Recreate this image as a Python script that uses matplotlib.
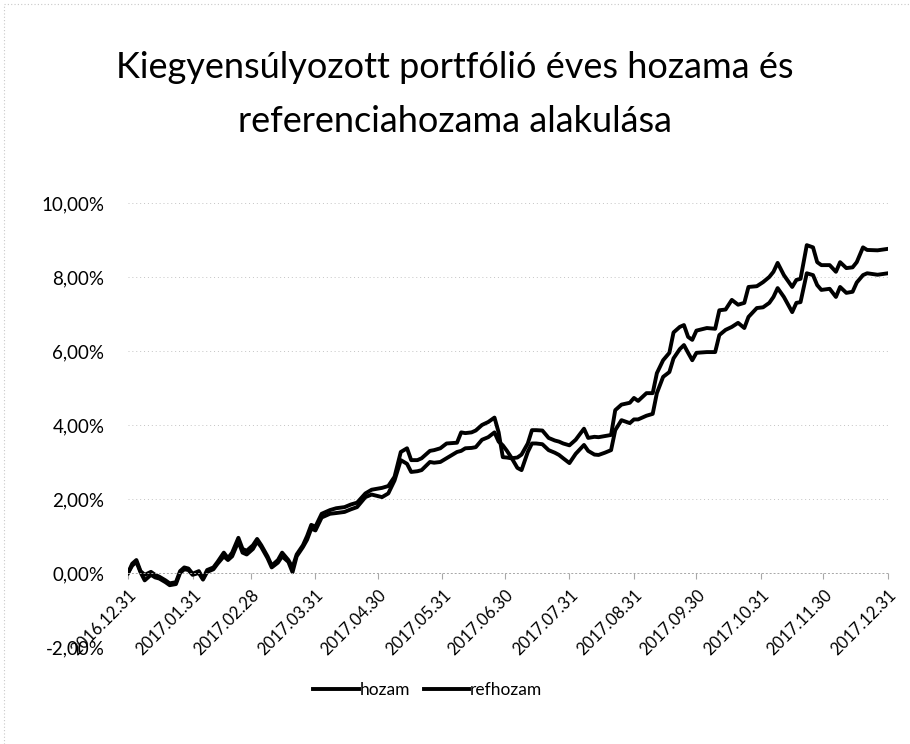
import numpy as np
import pandas as pd
import matplotlib
matplotlib.use('Agg')
import matplotlib.pyplot as plt
import matplotlib.dates as mdates
from matplotlib.ticker import FuncFormatter

plt.rcParams['font.family'] = ['Lato', 'DejaVu Sans']

# (values in %)
dates = [
    '2016-12-31', '2017-01-02', '2017-01-04', '2017-01-06', '2017-01-08', '2017-01-11',
    '2017-01-13', '2017-01-15', '2017-01-18', '2017-01-20', '2017-01-23', '2017-01-25',
    '2017-01-27', '2017-01-29', '2017-01-31', '2017-02-03', '2017-02-05', '2017-02-07',
    '2017-02-10', '2017-02-12', '2017-02-15', '2017-02-17', '2017-02-19', '2017-02-22',
    '2017-02-24', '2017-02-26', '2017-03-01', '2017-03-03', '2017-03-05', '2017-03-08',
    '2017-03-10', '2017-03-13', '2017-03-15', '2017-03-18', '2017-03-20', '2017-03-22',
    '2017-03-25', '2017-03-27', '2017-03-29', '2017-03-31', '2017-04-03', '2017-04-07',
    '2017-04-10', '2017-04-14', '2017-04-17', '2017-04-20', '2017-04-24', '2017-04-27',
    '2017-05-02', '2017-05-05', '2017-05-08', '2017-05-11', '2017-05-14', '2017-05-16',
    '2017-05-19', '2017-05-21', '2017-05-25', '2017-05-27', '2017-05-30', '2017-06-02',
    '2017-06-07', '2017-06-09', '2017-06-11', '2017-06-14', '2017-06-16', '2017-06-19',
    '2017-06-22', '2017-06-25', '2017-06-27', '2017-06-29', '2017-07-01', '2017-07-03',
    '2017-07-06', '2017-07-08', '2017-07-11', '2017-07-13', '2017-07-15', '2017-07-18',
    '2017-07-21', '2017-07-24', '2017-07-26', '2017-07-28', '2017-07-31', '2017-08-03',
    '2017-08-07', '2017-08-09', '2017-08-12', '2017-08-14', '2017-08-17', '2017-08-20',
    '2017-08-22', '2017-08-25', '2017-08-29', '2017-08-31', '2017-09-02', '2017-09-06',
    '2017-09-09', '2017-09-11', '2017-09-14', '2017-09-17', '2017-09-19', '2017-09-22',
    '2017-09-24', '2017-09-26', '2017-09-28', '2017-09-30', '2017-10-05', '2017-10-09',
    '2017-10-11', '2017-10-14', '2017-10-17', '2017-10-20', '2017-10-23', '2017-10-25',
    '2017-10-29', '2017-11-01', '2017-11-04', '2017-11-06', '2017-11-08', '2017-11-11',
    '2017-11-15', '2017-11-17', '2017-11-19', '2017-11-22', '2017-11-25', '2017-11-27',
    '2017-11-29', '2017-12-03', '2017-12-06', '2017-12-08', '2017-12-11', '2017-12-14',
    '2017-12-16', '2017-12-19', '2017-12-21', '2017-12-26', '2017-12-31',
]

hozam = [
    0.00, 0.25, 0.35, 0.05, -0.05, 0.03,
    -0.05, -0.10, -0.20, -0.28, -0.25, 0.05,
    0.15, 0.12, -0.02, 0.05, -0.15, 0.08,
    0.15, 0.30, 0.55, 0.40, 0.55, 0.95,
    0.65, 0.60, 0.75, 0.92, 0.75, 0.45,
    0.20, 0.35, 0.55, 0.35, 0.15, 0.50,
    0.75, 1.00, 1.30, 1.25, 1.60, 1.70,
    1.75, 1.78, 1.85, 1.90, 2.15, 2.25,
    2.30, 2.35, 2.60, 3.27, 3.37, 3.05,
    3.05, 3.10, 3.30, 3.32, 3.37, 3.50,
    3.52, 3.80, 3.78, 3.80, 3.85, 4.00,
    4.08, 4.20, 3.80, 3.13, 3.12, 3.10,
    3.12, 3.20, 3.50, 3.86, 3.86, 3.85,
    3.65, 3.58, 3.55, 3.50, 3.45, 3.60,
    3.90, 3.65, 3.68, 3.67, 3.70, 3.73,
    4.40, 4.55, 4.60, 4.73, 4.65, 4.86,
    4.86, 5.40, 5.75, 5.95, 6.50, 6.65,
    6.70, 6.38, 6.30, 6.55, 6.62, 6.60,
    7.10, 7.12, 7.38, 7.25, 7.30, 7.73,
    7.75, 7.86, 8.00, 8.14, 8.38, 8.05,
    7.73, 7.92, 7.95, 8.86, 8.80, 8.40,
    8.32, 8.32, 8.14, 8.40, 8.24, 8.26,
    8.40, 8.80, 8.73, 8.72, 8.76,
]

refhozam = [
    0.00, 0.20, 0.30, 0.02, -0.20, -0.05,
    -0.12, -0.15, -0.25, -0.33, -0.30, 0.00,
    0.10, 0.08, -0.05, 0.00, -0.18, 0.03,
    0.10, 0.25, 0.45, 0.35, 0.45, 0.85,
    0.55, 0.50, 0.65, 0.85, 0.70, 0.40,
    0.15, 0.28, 0.45, 0.30, 0.02, 0.45,
    0.70, 0.90, 1.20, 1.15, 1.50, 1.60,
    1.62, 1.65, 1.72, 1.78, 2.05, 2.12,
    2.05, 2.15, 2.50, 3.05, 2.95, 2.73,
    2.75, 2.78, 3.00, 2.98, 3.00, 3.10,
    3.27, 3.30, 3.37, 3.38, 3.40, 3.60,
    3.67, 3.80, 3.55, 3.45, 3.30, 3.13,
    2.84, 2.78, 3.27, 3.50, 3.50, 3.48,
    3.32, 3.25, 3.19, 3.10, 2.97, 3.22,
    3.46, 3.30, 3.20, 3.19, 3.25, 3.32,
    3.86, 4.13, 4.05, 4.15, 4.15, 4.25,
    4.30, 4.86, 5.30, 5.43, 5.80, 6.05,
    6.16, 5.95, 5.75, 5.95, 5.97, 5.97,
    6.43, 6.57, 6.65, 6.76, 6.62, 6.92,
    7.16, 7.18, 7.30, 7.46, 7.70, 7.46,
    7.05, 7.30, 7.32, 8.10, 8.05, 7.78,
    7.65, 7.68, 7.46, 7.73, 7.57, 7.60,
    7.85, 8.05, 8.10, 8.06, 8.10,
]

title = 'Kiegyensúlyozott portfólió éves hozama és\nreferenciahozama alakulása'
yticks = [-2, 0, 2, 4, 6, 8, 10]

x = pd.to_datetime(dates)
tick_dates = pd.date_range('2016-12-31', '2017-12-31', freq='ME')

fig = plt.figure(figsize=(9.1, 7.44), dpi=100)
ax = fig.add_axes([0.1407, 0.1304, 0.8351, 0.5968])

ax.plot(x, hozam, color='black', lw=2.8, label='hozam')
ax.plot(x, refhozam, color='black', lw=2.8, label='refhozam')

ax.set_xlim(pd.Timestamp('2016-12-31'), pd.Timestamp('2017-12-31'))
ax.set_ylim(-2, 10)
ax.set_yticks(yticks)
ax.yaxis.set_major_formatter(FuncFormatter(lambda v, p: f'{v:.2f}%'.replace('.', ',')))
ax.grid(axis='y', color='#c4c4c4', ls=(0, (1, 3)), lw=0.7)
ax.set_axisbelow(True)

for s in ['top', 'right', 'left']:
    ax.spines[s].set_visible(False)
ax.spines['bottom'].set_position(('data', 0))
ax.spines['bottom'].set_color('#a8a8a8')
ax.spines['bottom'].set_linestyle((0, (1, 3)))
ax.spines['bottom'].set_linewidth(0.7)

ax.set_xticks(tick_dates)
ax.xaxis.set_major_formatter(mdates.DateFormatter('%Y.%m.%d'))
ax.tick_params(axis='x', length=4, color='#a8a8a8', pad=6, labelsize=12)
ax.tick_params(axis='y', length=0, pad=17, labelsize=13.5)
for lab in ax.get_xticklabels():
    lab.set_rotation(45)
    lab.set_ha('right')
    lab.set_rotation_mode('anchor')

fig.text(0.5, 0.873, title, ha='center', va='center', fontsize=26,
         linespacing=1.75)

fig.legend(loc='center', bbox_to_anchor=(0.47, 0.073), ncol=2, frameon=False,
           fontsize=12.5, handlelength=2.6, handletextpad=0.05, columnspacing=0.8)

# faint scanned chart border
fig.add_artist(plt.Line2D([0.004, 0.004], [0.0, 0.995], color='#c8c8c8', lw=0.8,
                          ls=(0, (1, 2)), transform=fig.transFigure))
fig.add_artist(plt.Line2D([0.004, 1.0], [0.995, 0.995], color='#c8c8c8', lw=0.8,
                          ls=(0, (1, 2)), transform=fig.transFigure))

plt.savefig('out.png', dpi=100)
